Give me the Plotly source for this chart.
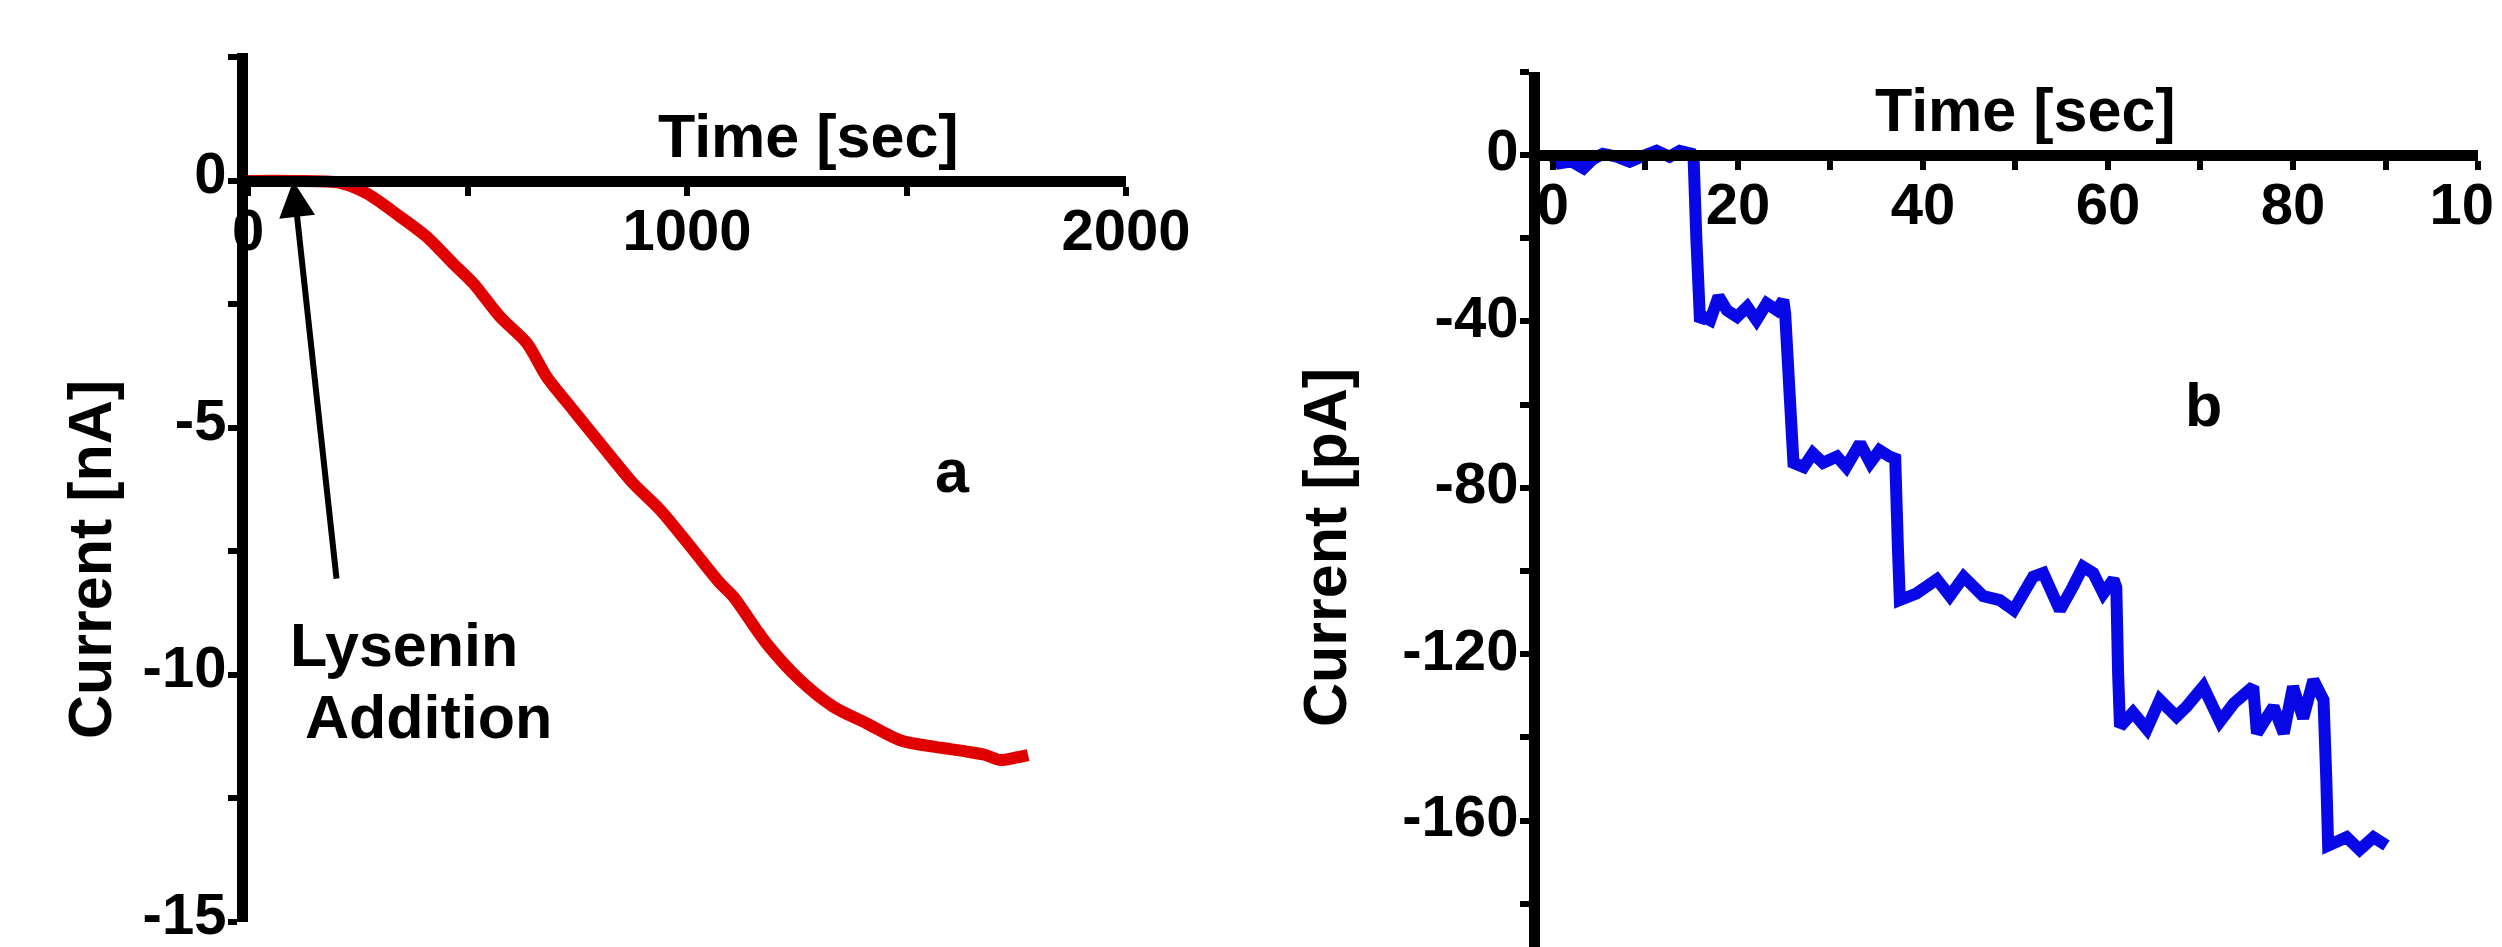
import plotly.graph_objects as go

# ---------------- data ----------------
# panel a: macroscopic current after lysenin addition
time_a = [0, 100, 210, 270, 346, 407, 467, 513, 574, 635, 680, 741, 802, 877, 939,
          1014, 1075, 1105, 1181, 1257, 1333, 1409, 1485, 1561, 1600, 1637, 1680,
          1713, 1745, 1777]
current_a = [0, 0, -0.04, -0.25, -0.72, -1.13, -1.67, -2.07, -2.75, -3.28, -3.96,
             -4.64, -5.31, -6.12, -6.66, -7.47, -8.14, -8.41, -9.36, -10.1, -10.64,
             -10.98, -11.32, -11.45, -11.5, -11.55, -11.62, -11.72, -11.68, -11.62]

# panel b: stepwise channel insertion
time_b = [0, 0.7, 2, 3.3, 4.3, 5.4, 6.9, 8.3, 9.8, 11.2, 12.6, 13.7, 15.0, 15.2, 15.5,
          15.9, 16.3, 17.0, 17.9, 18.8, 19.9, 21.0, 22.0, 23.1, 24.2, 24.9, 25.1, 25.5,
          26.0, 27.1, 28.1, 29.2, 30.7, 31.7, 33.2, 34.3, 35.3, 36.4, 37.0, 37.3, 37.5,
          39.3, 41.5, 42.9, 44.4, 46.5, 48.3, 49.8, 51.9, 53.0, 54.8, 56.2, 57.3, 58.4,
          59.5, 60.6, 60.9, 61.1, 61.3, 62.7, 64.2, 65.6, 67.4, 68.5, 70.3, 72.1, 73.6,
          75.7, 76.1, 77.9, 79.0, 80.0, 81.1, 82.2, 83.3, 83.6, 83.8, 85.8, 87.2, 88.7,
          90.1]
current_b = [-0.4, -2, -1.5, -3.2, -1, 0.3, -0.4, -1.6, -0.2, 1, -0.4, 1, 0.3, -0.5, -20,
             -40, -38.9, -39.7, -34, -37.3, -38.9, -36.5, -39.7, -35.7, -37.3, -34.9, -38,
             -60, -74, -75, -71.7, -74, -72.5, -75, -69.3, -74, -71, -72.5, -73, -95, -107,
             -105.4, -102, -106, -101.4, -106, -107, -109.4, -101.4, -100.5, -109.4, -103.8,
             -99, -100.5, -105.4, -102, -104, -125, -137.4, -134, -138, -131, -135, -132.6,
             -127.8, -136.2, -131.8, -127.8, -139, -132.6, -139, -127.8, -135.4, -126.2,
             -131, -150, -166, -164, -167, -164, -166]

xticks_a = [0, 500, 1000, 1500, 2000]
xticklabels_a = ["0", "", "1000", "", "2000"]
yticks_a = [2.5, 0, -2.5, -5, -7.5, -10, -12.5, -15]
yticklabels_a = ["", "0", "", "-5", "", "-10", "", "-15"]

xticks_b = [0, 10, 20, 30, 40, 50, 60, 70, 80, 90, 100]
xticklabels_b = ["0", "", "20", "", "40", "", "60", "", "80", "", "100"]
yticks_b = [20, 0, -20, -40, -60, -80, -100, -120, -140, -160, -180]
yticklabels_b = ["", "0", "", "-40", "", "-80", "", "-120", "", "-160", ""]

# ---------------- layout helpers ----------------
W, H = 2502, 947           # window size
OFF = 8                    # default page body margin
FW, FH = W - OFF, H - OFF  # figure fills the window from the body margin on

def px(x):                 # window pixel -> paper fraction
    return (x - OFF) / FW
def py(y):
    return 1 - (y - OFF) / FH

FONT = "Liberation Sans, Arial, sans-serif"
tickfont = dict(family=FONT, size=58, color="black", weight="bold")
LW = 11

fig = go.Figure()
fig.add_trace(go.Scatter(x=time_a, y=current_a, mode="lines",
                         line=dict(color="#e00000", width=12, shape="spline",
                                   smoothing=0.8),
                         xaxis="x", yaxis="y", showlegend=False))
fig.add_trace(go.Scatter(x=time_b, y=current_b, mode="lines",
                         line=dict(color="#0808e6", width=12),
                         xaxis="x2", yaxis="y2", showlegend=False))

axis_common = dict(showgrid=False, zeroline=False, showline=True, linecolor="black",
                   linewidth=LW, ticks="outside", ticklen=9, tickwidth=6,
                   tickcolor="black", tickfont=tickfont, tickmode="array",
                   ticklabeloverflow="allow", automargin=False)

# bottom of window for panel b's y axis
yb_bottom_px = OFF + FH
yb_bottom_val = -(yb_bottom_px - 155) / 4.16

fig.update_layout(
    xaxis=dict(**axis_common, range=[0, 2000], domain=[px(248), px(1126)],
               anchor="free", position=py(181), side="bottom",
               ticklabelstandoff=-16,
               tickvals=xticks_a, ticktext=xticklabels_a),
    yaxis=dict(**axis_common, range=[-15, 2.6], domain=[py(922), py(52.5)],
               anchor="x", side="left", ticklabelstandoff=-10, ticklabelshift=-8,
               tickvals=yticks_a, ticktext=yticklabels_a),
    xaxis2=dict(**axis_common, range=[-1.4, 100], domain=[px(1540), px(2478)],
                anchor="free", position=py(155), side="bottom",
                ticklabelstandoff=-16,
                tickvals=xticks_b, ticktext=xticklabels_b),
    yaxis2=dict(**axis_common, range=[yb_bottom_val, 20], domain=[0, py(71.8)],
                anchor="x2", side="left", ticklabelstandoff=-10, ticklabelshift=-5,
                tickvals=yticks_b, ticktext=yticklabels_b),
)

annfont = dict(family=FONT, size=61, color="black", weight="bold")
texts = [
    ("Time [sec]", 808, 136, 0),
    ("Time [sec]", 2025, 110, 0),
    ("Current [nA]", 90, 560, -90),
    ("Current [pA]", 1325, 548, -90),
    ("a", 952, 471, 0),
    ("b", 2203, 405, 0),
    ("Lysenin", 404, 645, 0),
    ("Addition", 428, 717, 0),
]
annotations = []
for t, x, y, ang in texts:
    annotations.append(dict(text=t, x=px(x), y=py(y), xref="paper", yref="paper",
                            xanchor="center", yanchor="middle", showarrow=False,
                            textangle=ang, font=annfont, align="center"))
# arrow pointing at lysenin addition time
annotations.append(dict(text="", x=103, y=0.0, xref="x", yref="y",
                        ax=202, ay=-8.08, axref="x", ayref="y",
                        showarrow=True, arrowhead=2, arrowsize=1.2, arrowwidth=6,
                        arrowcolor="black", standoff=0))

fig.update_layout(width=FW, height=FH, autosize=False,
                  margin=dict(l=0, r=0, t=0, b=0, autoexpand=False),
                  paper_bgcolor="white", plot_bgcolor="white",
                  annotations=annotations, showlegend=False)

fig.write_html("out.html")
